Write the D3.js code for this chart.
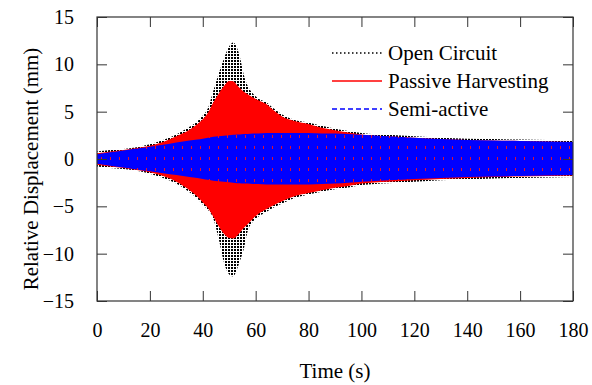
<!DOCTYPE html>
<html><head><meta charset="utf-8">
<script src="https://cdn.jsdelivr.net/npm/d3@7"></script>
<style>body{margin:0;background:#fff}svg{display:block}</style>
</head><body>
<svg id="chart" width="592" height="385"></svg>
<script>
// ---- data (envelopes) ----
const time =      [0,5,10,15,20,25,30,35,38,40,42,44,46,48,50,51.5,53,54,55.5,57,59,61,64,67,70,75,80,85,90,95,100,110,120,130,140,150,160,170,180];
const openUpper = [0.8,0.95,1.05,1.25,1.55,2.0,2.6,3.4,4.0,4.6,5.4,7.2,9.0,10.6,11.9,12.3,11.7,10.8,8.9,7.7,6.9,6.4,6.0,5.3,4.7,4.1,3.85,3.5,3.2,2.95,2.75,2.55,2.4,2.25,2.15,2.1,2.05,2.0,1.95];
const openLower = [-0.8,-0.95,-1.05,-1.25,-1.55,-2.0,-2.6,-3.5,-4.2,-4.8,-5.4,-6.3,-8.4,-10.9,-12.2,-12.4,-11.6,-10.8,-9.5,-7.6,-6.6,-6.1,-5.6,-5.1,-4.7,-4.1,-3.75,-3.45,-3.2,-3.0,-2.75,-2.55,-2.4,-2.25,-2.15,-2.05,-2.0,-1.95,-1.9];
const passUpper = [0.6,0.8,0.95,1.15,1.4,1.8,2.4,3.1,3.7,4.2,4.9,6.0,6.9,7.7,8.25,8.2,7.8,7.5,7.1,6.85,6.5,6.2,5.8,5.1,4.5,4.0,3.7,3.3,3.05,2.8,2.6,2.4,2.25,2.1,2.0,1.95,1.9,1.85,1.8];
const passLower = [-0.6,-0.8,-0.95,-1.15,-1.4,-1.8,-2.4,-3.3,-4.0,-4.6,-5.2,-6.1,-7.1,-7.9,-8.35,-8.4,-8.1,-7.8,-7.3,-6.9,-6.3,-5.8,-5.3,-4.85,-4.45,-3.9,-3.6,-3.3,-3.05,-2.85,-2.6,-2.4,-2.25,-2.1,-2.0,-1.9,-1.85,-1.8,-1.75];
const semiUpper = [0.5,0.7,0.9,1.1,1.3,1.5,1.75,1.95,2.05,2.15,2.25,2.35,2.4,2.45,2.5,2.55,2.6,2.6,2.65,2.65,2.7,2.7,2.75,2.75,2.75,2.75,2.75,2.7,2.7,2.65,2.55,2.4,2.25,2.1,2.0,1.95,1.9,1.85,1.8];
const semiLower = [-0.5,-0.7,-0.9,-1.1,-1.3,-1.5,-1.7,-1.9,-2.0,-2.1,-2.2,-2.3,-2.35,-2.4,-2.45,-2.5,-2.55,-2.55,-2.6,-2.6,-2.65,-2.65,-2.7,-2.7,-2.7,-2.7,-2.7,-2.65,-2.6,-2.5,-2.4,-2.25,-2.1,-2.0,-1.9,-1.85,-1.8,-1.75,-1.7];
const xTicks = [0,20,40,60,80,100,120,140,160,180];
const yTicks = [-15,-10,-5,0,5,10,15];
const seriesNames = ["Open Circuit","Passive Harvesting","Semi-active"];
const seriesColors = ["#000000","#ff0000","#0000ff"];

// ---- layout ----
const svg = d3.select("#chart");
const L = 97, R = 573, T = 17, B = 301;
const x = d3.scaleLinear().domain([0,180]).range([L,R]);
const y = d3.scaleLinear().domain([-15,15]).range([B,T]);
const font = "'Liberation Serif','Times New Roman',serif";

const defs = svg.append("defs");
const pb = defs.append("pattern").attr("id","dotBlack").attr("patternUnits","userSpaceOnUse").attr("width",3).attr("height",3);
pb.append("rect").attr("width",3).attr("height",3).attr("fill","#fff");
pb.append("rect").attr("width",2).attr("height",2).attr("fill","#000");
const pr = defs.append("pattern").attr("id","semiTex").attr("patternUnits","userSpaceOnUse").attr("width",9).attr("height",11);
pr.append("rect").attr("width",9).attr("height",11).attr("fill","#0000ff");
pr.append("rect").attr("x",2).attr("y",3).attr("width",1).attr("height",3).attr("fill","#e01030");

defs.append("clipPath").attr("id","clip").append("rect").attr("x",L).attr("y",T).attr("width",R-L).attr("height",B-T);

function area(up, lo){
  return d3.area().x((d,i)=>x(time[i])).y0((d,i)=>y(lo[i])).y1((d,i)=>y(up[i])).curve(d3.curveMonotoneX)(time);
}
const g = svg.append("g").attr("clip-path","url(#clip)");
g.append("path").attr("d",area(openUpper,openLower)).attr("fill","url(#dotBlack)");
g.append("path").attr("d",area(passUpper,passLower)).attr("fill","#ff0000");
g.append("path").attr("d",area(semiUpper,semiLower)).attr("fill","url(#semiTex)");

// ---- axes ----
const axisColor = "#333";
function style(sel){
  sel.select(".domain").remove();
  sel.selectAll(".tick line").attr("stroke",axisColor);
  sel.selectAll("text").attr("font-family",font).attr("font-size",20).attr("fill","#000");
}
svg.append("g").attr("transform",`translate(0,${B})`)
  .call(d3.axisBottom(x).tickValues(xTicks).tickFormat(d3.format("d")).tickSizeInner(-10).tickSizeOuter(0).tickPadding(22))
  .call(style);
svg.append("g").attr("transform",`translate(0,${T})`)
  .call(d3.axisTop(x).tickValues(xTicks).tickFormat("").tickSizeInner(-10).tickSizeOuter(0))
  .call(style);
svg.append("g").attr("transform",`translate(${L},0)`)
  .call(d3.axisLeft(y).tickValues(yTicks).tickFormat(d3.format("d")).tickSizeInner(-10).tickSizeOuter(0).tickPadding(23))
  .call(style);
svg.append("g").attr("transform",`translate(${R},0)`)
  .call(d3.axisRight(y).tickValues(yTicks).tickFormat("").tickSizeInner(-10).tickSizeOuter(0))
  .call(style);
svg.append("rect").attr("x",L).attr("y",T).attr("width",R-L).attr("height",B-T)
  .attr("fill","none").attr("stroke",axisColor).attr("stroke-width",1.2);

svg.append("text").attr("x",(L+R)/2).attr("y",378).attr("text-anchor","middle")
  .attr("font-family",font).attr("font-size",21).text("Time (s)");
svg.append("text").attr("transform",`translate(38,${(T+B)/2+10}) rotate(-90)`).attr("text-anchor","middle")
  .attr("font-family",font).attr("font-size",21).text("Relative Displacement (mm)");

// ---- legend ----
const dashes = ["1.5,2.5", null, "5,3"];
const widths = [1.3, 1.5, 1.5];
seriesNames.forEach((n,i)=>{
  const yy = 53 + i*28;
  svg.append("line").attr("x1",332).attr("x2",382).attr("y1",yy).attr("y2",yy)
    .attr("stroke",seriesColors[i]).attr("stroke-width",widths[i]).attr("stroke-dasharray",dashes[i]);
  svg.append("text").attr("x",388).attr("y",yy+7).attr("font-family",font).attr("font-size",21).text(n);
});
</script>
</body></html>
